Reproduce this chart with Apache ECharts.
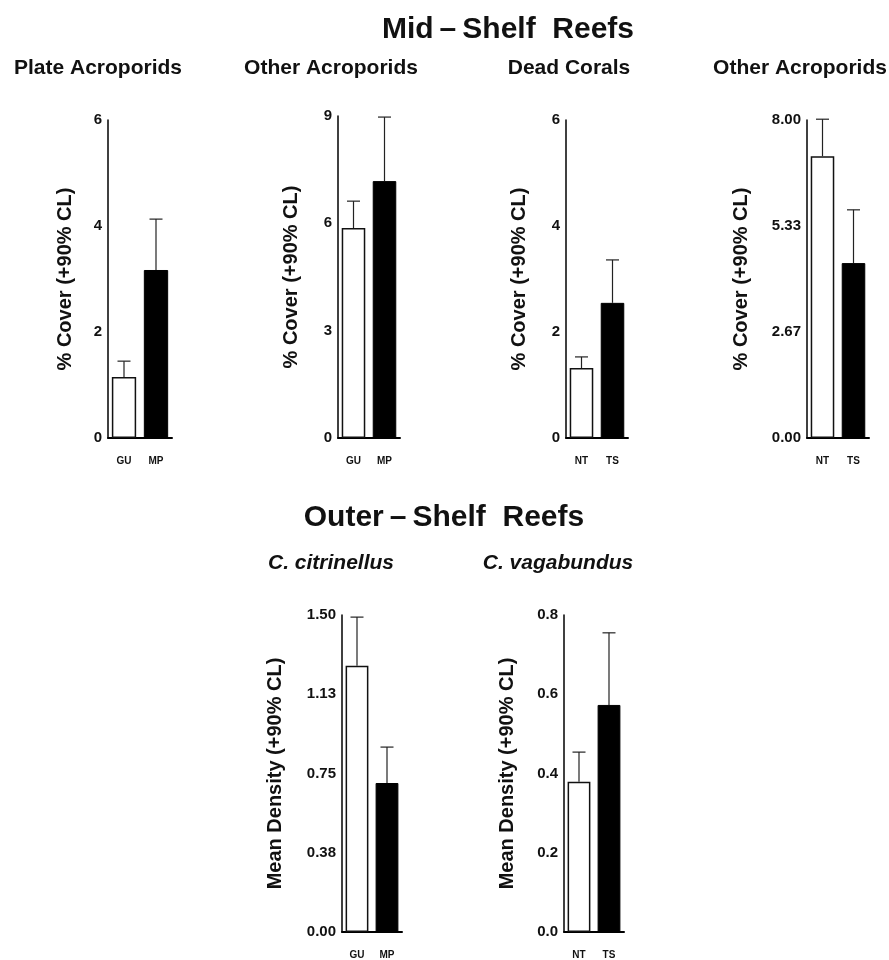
<!DOCTYPE html>
<html>
<head>
<meta charset="utf-8">
<script src="https://cdn.jsdelivr.net/npm/echarts@6/dist/echarts.min.js"></script>
<style>html,body{margin:0;padding:0;background:#fff}#c{width:889px;height:960px}</style>
</head>
<body>
<div id="c"></div>
<script>
// ---- data ----
const catsA = ['GU', 'MP'];
const catsB = ['NT', 'TS'];
const plateMean = [1.15, 3.17];
const plateUpper = [1.45, 4.13];
const otherAcroMean = [5.87, 7.18];
const otherAcroUpper = [6.62, 8.97];
const deadMean = [1.32, 2.55];
const deadUpper = [1.53, 3.36];
const otherAcro2Mean = [7.09, 4.40];
const otherAcro2Upper = [8.02, 5.74];
const citrMean = [1.26, 0.705];
const citrUpper = [1.49, 0.875];
const vagaMean = [0.379, 0.573];
const vagaUpper = [0.454, 0.755];
const panelTitles = ['Plate Acroporids', 'Other Acroporids', 'Dead Corals', 'Other Acroporids', 'C. citrinellus', 'C. vagabundus'];
const yNameCover = '% Cover (+90% CL)';
const yNameDensity = 'Mean Density (+90% CL)';

const FONT = 'Liberation Sans';

const panels = [
  {cats: catsA, mean: plateMean, upper: plateUpper, max: 6, interval: 2, dec: 0, left: 108, top: 120, height: 318, width: 64, nameGap: 33, yName: yNameCover},
  {cats: catsA, mean: otherAcroMean, upper: otherAcroUpper, max: 9, interval: 3, dec: 0, left: 338, top: 116, height: 322, width: 62, nameGap: 37, yName: yNameCover},
  {cats: catsB, mean: deadMean, upper: deadUpper, max: 6, interval: 2, dec: 0, left: 566, top: 120, height: 318, width: 62, nameGap: 37, yName: yNameCover},
  {cats: catsB, mean: otherAcro2Mean, upper: otherAcro2Upper, max: 8, interval: 8/3, dec: 2, left: 807, top: 120, height: 318, width: 62, nameGap: 56, yName: yNameCover},
  {cats: catsA, mean: citrMean, upper: citrUpper, max: 1.5, interval: 0.375, dec: 2, left: 342, top: 615, height: 317, width: 60, nameGap: 57, yName: yNameDensity},
  {cats: catsB, mean: vagaMean, upper: vagaUpper, max: 0.8, interval: 0.2, dec: 1, left: 564, top: 615, height: 317, width: 60, nameGap: 47, yName: yNameDensity}
];

const grid = [], xAxis = [], yAxis = [], series = [];
panels.forEach((p, i) => {
  grid.push({left: p.left, top: p.top, width: p.width, height: p.height, containLabel: false});
  xAxis.push({
    type: 'category', gridIndex: i, data: p.cats,
    axisLine: {show: true, lineStyle: {color: '#000', width: 2}},
    axisTick: {show: false},
    axisLabel: {color: '#111', fontFamily: FONT, fontWeight: 'bold', fontSize: 10, margin: 18}
  });
  yAxis.push({
    type: 'value', gridIndex: i, min: 0, max: p.max, interval: p.interval,
    name: p.yName, nameLocation: 'middle', nameRotate: 90, nameGap: p.nameGap,
    nameTextStyle: {color: '#111', fontFamily: FONT, fontWeight: 'bold', fontSize: 20},
    axisLine: {show: true, lineStyle: {color: '#000', width: 1.5}},
    axisTick: {show: false},
    splitLine: {show: false},
    axisLabel: {color: '#111', fontFamily: FONT, fontWeight: 'bold', fontSize: 15, margin: 6,
      formatter: v => v.toFixed(p.dec)}
  });
  series.push({
    type: 'bar', xAxisIndex: i, yAxisIndex: i, barWidth: '76%', barGap: '0%',
    data: p.mean.map((v, k) => ({value: v, itemStyle: k === 0 ? {color: '#fff', borderColor: '#111', borderWidth: 1.5} : {color: '#000', borderColor: '#000', borderWidth: 1}})),
    silent: true, animation: false
  });
  series.push({
    type: 'custom', xAxisIndex: i, yAxisIndex: i, animation: false, silent: true,
    data: p.mean.map((v, k) => [k, v, p.upper[k]]),
    renderItem: (params, api) => {
      const lo = api.coord([api.value(0), api.value(1)]);
      const hi = api.coord([api.value(0), api.value(2)]);
      const half = 6.5;
      return {type: 'group', children: [
        {type: 'line', shape: {x1: lo[0], y1: lo[1], x2: hi[0], y2: hi[1]}, style: {stroke: '#222', lineWidth: 1.2}},
        {type: 'line', shape: {x1: hi[0] - half, y1: hi[1], x2: hi[0] + half, y2: hi[1]}, style: {stroke: '#222', lineWidth: 1.2}}
      ]};
    },
    z: 3
  });
});

const txt = (x, y, text, size, italic) => ({
  type: 'text', x: x, y: y,
  style: {text: text, fill: '#111', font: (italic ? 'italic ' : '') + 'bold ' + size + 'px "' + FONT + '"', align: 'center', verticalAlign: 'middle'}
});

const graphic = [
  txt(508, 30, 'Mid\u2009\u2013\u2009Shelf  Reefs', 30, false),
  txt(444, 518, 'Outer\u2009\u2013\u2009Shelf  Reefs', 30, false),
  txt(98, 68, panelTitles[0], 21, false),
  txt(331, 68, panelTitles[1], 21, false),
  txt(569, 68, panelTitles[2], 21, false),
  txt(800, 68, panelTitles[3], 21, false),
  txt(331, 563, panelTitles[4], 21, true),
  txt(558, 563, panelTitles[5], 21, true)
];

const chart = echarts.init(document.getElementById('c'), null, {renderer: 'canvas'});
chart.setOption({backgroundColor: '#fff', animation: false, grid, xAxis, yAxis, series, graphic});
</script>
</body>
</html>
